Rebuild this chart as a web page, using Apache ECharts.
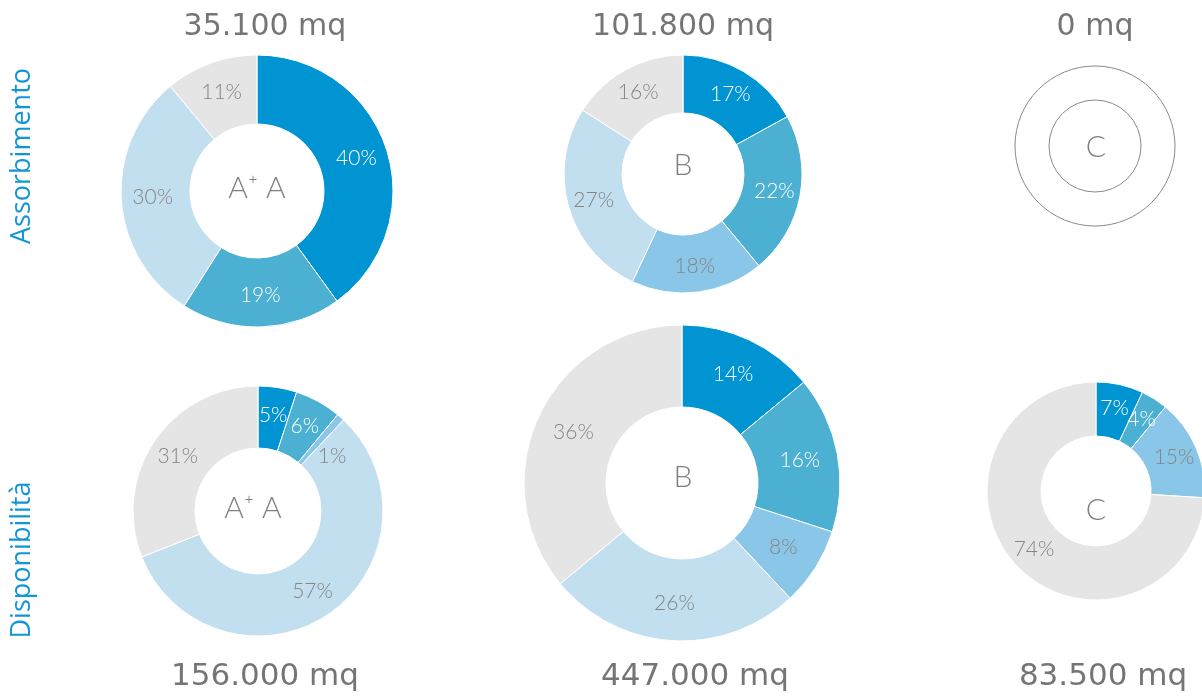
<!DOCTYPE html>
<html>
<head>
<meta charset="utf-8">
<title>Assorbimento / Disponibilità</title>
<script src="https://cdn.jsdelivr.net/npm/echarts@6/dist/echarts.min.js"></script>
<style>
  html, body { margin: 0; padding: 0; background: #fff; }
  #chart { width: 1202px; height: 700px; }
</style>
</head>
<body>
<div id="chart"></div>
<script>
// segment order (clockwise from 12 o'clock)
const segmentNames = ['s1', 's2', 's3', 's4', 's5']
const segmentColors = ['#0094d2', '#4bb0d1', '#8ac6e8', '#c2dff0', '#e5e5e5']
const labelColors = ['#ffffff', '#ffffff', '#858585', '#858585', '#858585']

// Assorbimento (top row), percentages per class group
const assAplusA = [40, 19, null, 30, 11]
const assB = [17, 22, 18, 27, 16]
const assC = [] // 0 mq: nothing to draw

// Disponibilità (bottom row)
const dispAplusA = [5, 6, 1, 57, 31]
const dispB = [14, 16, 8, 26, 36]
const dispC = [7, 4, 15, null, 74]

const groupLabels = ['A\u207A A', 'B', 'C']
const assTotals = ['35.100 mq', '101.800 mq', '0 mq']
const dispTotals = ['156.000 mq', '447.000 mq', '83.500 mq']
const rowLabels = ['Assorbimento', 'Disponibilità']

const LABEL_FONT = 'Lato, "Open Sans", sans-serif'
const TOTAL_FONT = '"DejaVu Sans", sans-serif'
const ROW_FONT = '"Open Sans", sans-serif'

// tiny slices get their label pushed a bit out of the way
const nudgeSmall = (v) => (v !== null && v <= 2 ? [10, 18] : [0, 0])

const toData = (values) => values
  .map((v, i) => ({ v, i }))
  .filter(d => d.v !== null)
  .map(d => ({
    name: segmentNames[d.i],
    value: d.v,
    itemStyle: { color: segmentColors[d.i] },
    label: { color: labelColors[d.i], offset: nudgeSmall(d.v) }
  }))

const makePie = (values, center, radius) => ({
  type: 'pie',
  center,
  radius,
  startAngle: 90,
  clockwise: true,
  silent: true,
  avoidLabelOverlap: false,
  minShowLabelAngle: 0,
  itemStyle: { borderColor: '#fff', borderWidth: 1 },
  label: {
    show: true,
    position: 'inside',
    formatter: '{c}%',
    fontFamily: LABEL_FONT,
    fontWeight: 300,
    fontSize: 21
  },
  labelLayout: { hideOverlap: false },
  labelLine: { show: false },
  emphasis: { disabled: true },
  data: toData(values)
})

const text = (str, x, y, font, fill, extra) => Object.assign({
  type: 'text',
  x, y,
  silent: true,
  style: { text: str, fill, font, align: 'center', verticalAlign: 'middle' }
}, extra || {})

const centerText = (str, x, y) => text(str, x, y, '300 30px ' + LABEL_FONT, '#808080')
const totalText = (str, x, y, size) => text(str, x, y, 'normal ' + size + 'px ' + TOTAL_FONT, '#757575')

const chart = echarts.init(document.getElementById('chart'))

const option = {
  animation: false,
  graphic: [
    text(rowLabels[0], 22, 156, '400 27px ' + ROW_FONT, '#1296d4', { rotation: Math.PI / 2 }),
    text(rowLabels[1], 22, 560, '400 27px ' + ROW_FONT, '#1296d4', { rotation: Math.PI / 2 }),
    totalText(assTotals[0], 265, 27, 30),
    totalText(assTotals[1], 683, 27, 30),
    totalText(assTotals[2], 1095, 27, 30),
    totalText(dispTotals[0], 265, 677, 31),
    totalText(dispTotals[1], 695, 677, 31),
    totalText(dispTotals[2], 1103, 677, 31),
    centerText(groupLabels[0], 257, 188),
    centerText(groupLabels[1], 683, 165),
    centerText(groupLabels[2], 1096, 147),
    centerText(groupLabels[0], 253, 508),
    centerText(groupLabels[1], 683, 477),
    centerText(groupLabels[2], 1096, 510)
  ],
  series: [
    makePie(assAplusA, [257, 191], [67, 136]),
    makePie(assB, [683, 174], [61, 119]),
    {
      type: 'pie',
      center: [1095, 146],
      radius: [46, 80],
      silent: true,
      showEmptyCircle: true,
      emptyCircleStyle: { color: 'rgba(0,0,0,0)', borderColor: '#888', borderWidth: 1 },
      label: { show: false },
      data: assC
    },
    makePie(dispAplusA, [258, 511], [63, 125]),
    makePie(dispB, [682, 483], [76, 158]),
    makePie(dispC, [1096, 491], [55, 109])
  ]
}

chart.setOption(option)
window.addEventListener('resize', () => chart.resize())
</script>
</body>
</html>
